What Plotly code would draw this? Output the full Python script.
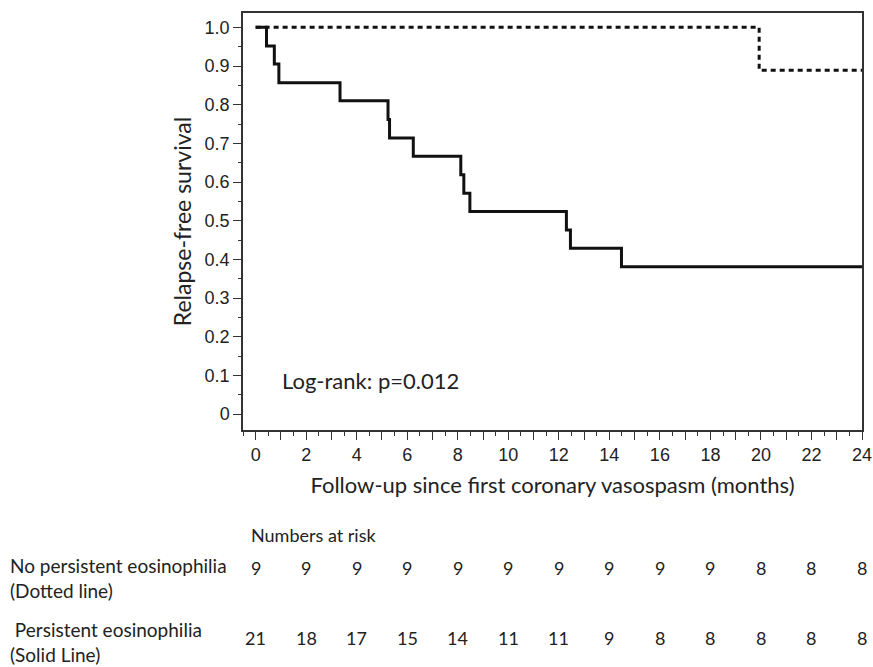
import plotly.graph_objects as go

# Kaplan-Meier curves: step change times (months) and relapse-free survival
solid_t = [0, 0.43, 0.74, 0.92, 3.34, 5.24, 5.30, 6.24, 8.12, 8.24, 8.48, 12.30, 12.46, 14.48, 24]
solid_s = [1.0, 0.952, 0.905, 0.857, 0.810, 0.762, 0.714, 0.667, 0.619, 0.571, 0.524, 0.476, 0.429, 0.381, 0.381]
dotted_t = [0, 19.93, 24]
dotted_s = [1.0, 0.889, 0.889]

# Numbers at risk table
risk_times = [0, 2, 4, 6, 8, 10, 12, 14, 16, 18, 20, 22, 24]
risk_no_persistent = [9, 9, 9, 9, 9, 9, 9, 9, 9, 9, 8, 8, 8]
risk_persistent = [21, 18, 17, 15, 14, 11, 11, 9, 8, 8, 8, 8, 8]
group_labels = ["No persistent eosinophilia<br>(Dotted line)",
                "&nbsp;Persistent eosinophilia<br>(Solid Line)"]

y_tickvals = [0, 0.1, 0.2, 0.3, 0.4, 0.5, 0.6, 0.7, 0.8, 0.9, 1.0]
y_ticktext = ["0", "0.1", "0.2", "0.3", "0.4", "0.5", "0.6", "0.7", "0.8", "0.9", "1.0"]
x_tickvals = list(range(0, 25))
x_ticktext = [str(v) if v % 2 == 0 else "" for v in x_tickvals]

W, H = 873, 667
ML, MR, MT, MB = 243, 11, 13, 237
PW, PH = W - ML - MR, H - MT - MB


def px_x(px):
    return (px - ML) / PW


def px_y(py):
    return (H - MB - py) / PH


AX_FONT = "Liberation Sans, Arial, sans-serif"
TXT_FONT = "Lato, Open Sans, sans-serif"
INK = "#222222"

fig = go.Figure()
fig.add_trace(go.Scatter(
    x=dotted_t, y=dotted_s, mode="lines", line_shape="hv",
    line=dict(color="#111111", width=3, dash="5px,4px"),
    showlegend=False, hoverinfo="skip",
))
fig.add_trace(go.Scatter(
    x=solid_t, y=solid_s, mode="lines", line_shape="hv",
    line=dict(color="#111111", width=3),
    showlegend=False, hoverinfo="skip",
))

annotations = [
    dict(x=0.96, y=0.088, xref="x", yref="y", text="Log-rank: p=0.012",
         showarrow=False, xanchor="left", yanchor="middle",
         font=dict(family=TXT_FONT, size=22, color=INK)),
    dict(x=px_x(249), y=px_y(535), xref="paper", yref="paper", text="Numbers at risk",
         showarrow=False, xanchor="left", yanchor="middle",
         font=dict(family=TXT_FONT, size=18, color=INK)),
    dict(x=px_x(8), y=px_y(578), xref="paper", yref="paper", text=group_labels[0],
         showarrow=False, xanchor="left", yanchor="middle", align="left",
         font=dict(family=TXT_FONT, size=19, color=INK)),
    dict(x=px_x(8), y=px_y(642), xref="paper", yref="paper", text=group_labels[1],
         showarrow=False, xanchor="left", yanchor="middle", align="left",
         font=dict(family=TXT_FONT, size=19, color=INK)),
]
for t, n1, n2 in zip(risk_times, risk_no_persistent, risk_persistent):
    annotations.append(dict(x=t, y=px_y(568), xref="x", yref="paper", text=str(n1),
                            showarrow=False, xanchor="center", yanchor="middle",
                            font=dict(family=TXT_FONT, size=18, color=INK)))
    annotations.append(dict(x=t, y=px_y(638), xref="x", yref="paper", text=str(n2),
                            showarrow=False, xanchor="center", yanchor="middle",
                            font=dict(family=TXT_FONT, size=18, color=INK)))

fig.update_layout(
    width=W, height=H,
    margin=dict(l=ML, r=MR, t=MT, b=MB, pad=0),
    paper_bgcolor="white", plot_bgcolor="white",
    annotations=annotations,
    xaxis=dict(
        range=[-0.5, 24], tickmode="array", tickvals=x_tickvals, ticktext=x_ticktext,
        ticks="outside", ticklen=8, tickwidth=1.3, tickcolor="#333333",
        minor=dict(tickmode="linear", tick0=0, dtick=0.5, ticks="outside",
                   ticklen=4, tickwidth=1.3, tickcolor="#333333"),
        showline=True, linecolor="#333333", linewidth=1.5, mirror=True,
        showgrid=False, zeroline=False, automargin=False,
        tickfont=dict(family=AX_FONT, size=18, color=INK),
        title=dict(text="Follow-up since first coronary vasospasm (months)",
                   font=dict(family=TXT_FONT, size=22, color=INK), standoff=13),
    ),
    yaxis=dict(
        range=[-0.041, 1.037], tickmode="array", tickvals=y_tickvals, ticktext=y_ticktext,
        ticks="outside", ticklen=8, tickwidth=1.3, tickcolor="#333333",
        minor=dict(tickmode="linear", tick0=0, dtick=0.05, ticks="outside",
                   ticklen=3, tickwidth=1.3, tickcolor="#333333"),
        showline=True, linecolor="#333333", linewidth=1.5, mirror=True,
        showgrid=False, zeroline=False, automargin=False,
        tickfont=dict(family=AX_FONT, size=18, color=INK),
        title=dict(text="Relapse-free survival",
                   font=dict(family=TXT_FONT, size=23, color=INK), standoff=7),
    ),
)

fig.write_html("out.html")
